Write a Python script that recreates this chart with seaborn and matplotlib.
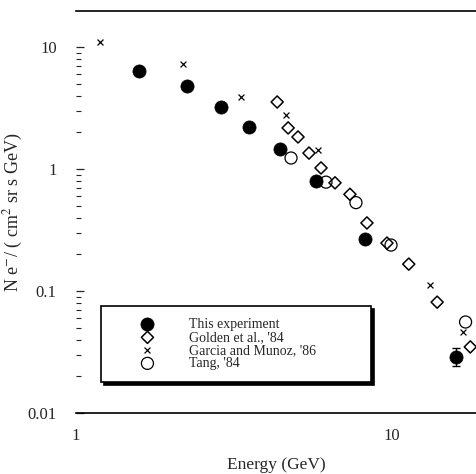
import matplotlib
matplotlib.use("Agg")
import matplotlib.pyplot as plt
import matplotlib.ticker as mticker
import seaborn as sns

# ---- data ----
this_E = [1.58, 2.24, 2.88, 3.53, 4.42, 5.75, 8.2, 15.9]
this_flux = [6.4, 4.8, 3.22, 2.21, 1.46, 0.80, 0.267, 0.0288]
this_err_lo = [0.0045]
this_err_hi = [0.0052]

golden_E = [4.33, 4.69, 5.04, 5.46, 5.96, 6.60, 7.36, 8.33, 9.64, 11.3, 13.9, 17.7]
golden_flux = [3.54, 2.17, 1.83, 1.35, 1.02, 0.77, 0.62, 0.361, 0.247, 0.166, 0.081, 0.0348]

garcia_E = [1.19, 2.18, 3.33, 4.62, 5.83, 13.2, 16.8]
garcia_flux = [11.0, 7.26, 3.89, 2.77, 1.43, 0.112, 0.046]

tang_E = [4.79, 6.18, 7.69, 9.93, 17.1]
tang_flux = [1.23, 0.78, 0.53, 0.238, 0.0557]

labels = ["This experiment", "Golden et al., '84", "Garcia and Munoz, '86", "Tang, '84"]
y_ticks = [0.01, 0.1, 1, 10]
y_ticklabels = ["0.01", "0.1", "1", "10"]
x_ticks = [1, 10]
x_ticklabels = ["1", "10"]

sns.set_style("ticks")
plt.rcParams["font.family"] = ["Liberation Serif", "DejaVu Serif"]
plt.rcParams["mathtext.fontset"] = "stix"

fig = plt.figure(figsize=(4.76, 4.74), dpi=100)
ax = fig.add_axes([0.160, 0.1287, 0.840, 0.848])
ax.set_xscale("log")
ax.set_yscale("log")

sns.scatterplot(x=this_E, y=this_flux, ax=ax, marker="o", s=90, color="black",
                edgecolor="black", linewidth=0.5, label=labels[0], zorder=3)
sns.scatterplot(x=golden_E, y=golden_flux, ax=ax, marker="D", s=38, color="black",
                facecolor="none", edgecolor="black", linewidth=1.1, label=labels[1], zorder=4)
sns.scatterplot(x=garcia_E, y=garcia_flux, ax=ax, marker="x", s=18, color="black",
                edgecolor="black", linewidth=0.9, label=labels[2], zorder=4)
sns.scatterplot(x=tang_E, y=tang_flux, ax=ax, marker="o", s=75, color="black",
                facecolor="none", edgecolor="black", linewidth=0.9, label=labels[3], zorder=2)

ax.errorbar(this_E[-1:], this_flux[-1:], yerr=[this_err_lo, this_err_hi], fmt="none",
            ecolor="black", elinewidth=1.0, capsize=3, zorder=3)

ax.set_xlim(1, 18.45)
ax.set_ylim(0.01, 19.7)

ax.set_yticks(y_ticks)
ax.set_yticklabels(y_ticklabels)
ax.yaxis.set_minor_locator(mticker.LogLocator(base=10, subs=range(2, 10)))
ax.yaxis.set_minor_formatter(mticker.NullFormatter())
ax.set_xticks(x_ticks)
ax.set_xticklabels(x_ticklabels)
ax.xaxis.set_minor_locator(mticker.NullLocator())

ax.tick_params(axis="y", which="major", direction="in", length=6, width=0.9,
               labelsize=12, pad=14, left=True, right=False)
ax.tick_params(axis="y", which="minor", direction="in", length=3.5, width=0.8)
ax.tick_params(axis="x", which="major", direction="in", length=0, labelsize=12, pad=11)

for side in ["left", "right"]:
    ax.spines[side].set_visible(False)
for side in ["top", "bottom"]:
    ax.spines[side].set_color("black")
    ax.spines[side].set_linewidth(1.2)

ax.set_xlabel("Energy (GeV)", fontsize=12.5, labelpad=9)
ax.set_ylabel(r"N e$^{-}$/ ( cm$^{2}$ sr s GeV)", fontsize=13, labelpad=4)
ax.yaxis.set_label_coords(-0.128, 0.5)

leg = ax.legend(loc="upper left", bbox_to_anchor=(0.212, 0.16, 0.567, 0.194),
                bbox_transform=fig.transFigure, borderaxespad=0, mode="expand",
                fontsize=10, frameon=True, fancybox=False,
                shadow={"color": "black", "alpha": 1.0},
                handlelength=5.0, handletextpad=0.5, labelspacing=0.0,
                borderpad=0.85)
frame = leg.get_frame()
frame.set_edgecolor("black")
frame.set_linewidth(1.2)
frame.set_facecolor("white")
frame.set_alpha(1.0)

fig.savefig("out.png", dpi=100)
